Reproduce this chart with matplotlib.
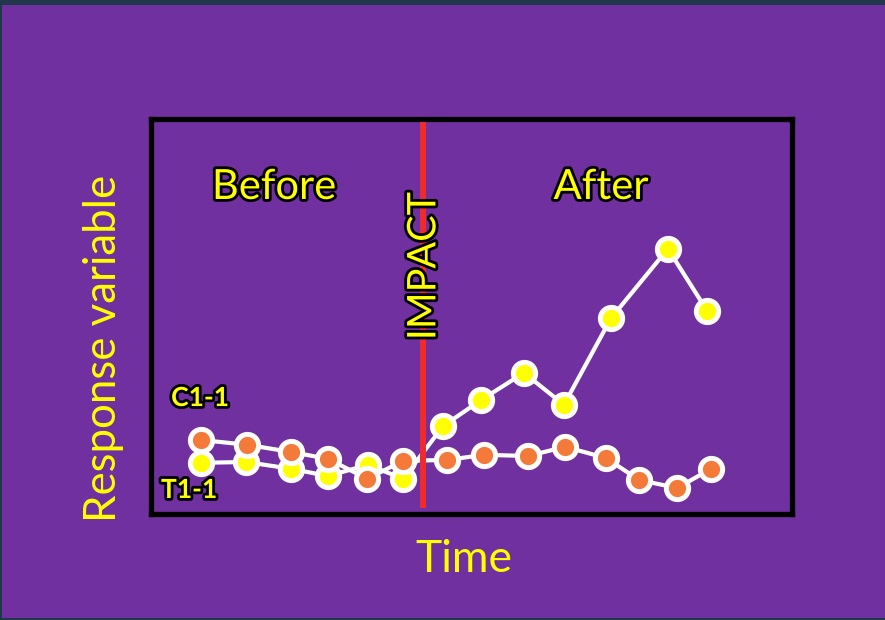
import matplotlib.pyplot as plt
import matplotlib.patheffects as pe
from matplotlib.patches import Rectangle

# values (time / response, arbitrary units)
t_c = [1.33, 2.45, 3.58, 4.5, 5.5, 6.38, 7.38, 8.33, 9.4, 10.4, 11.58, 13.0, 13.98]
y_c = [1.33, 1.35, 1.18, 1.0, 1.28, 0.93, 2.25, 2.9, 3.58, 2.78, 4.95, 6.68, 5.13]

t_t = [1.33, 2.48, 3.58, 4.5, 5.48, 6.38, 7.48, 8.4, 9.5, 10.43, 11.45, 12.28, 13.23, 14.08]
y_t = [1.9, 1.78, 1.6, 1.43, 0.93, 1.38, 1.4, 1.53, 1.5, 1.73, 1.45, 0.9, 0.7, 1.18]

t_impact = 6.88

purple = "#7030A0"
yellow = "#FFFF00"
orange = "#F47A3A"

plt.rcParams['font.family'] = ['Lato', 'DejaVu Sans']

fig = plt.figure(figsize=(8.85, 6.2), dpi=100, facecolor="#21384A")
fig.patches.append(Rectangle((2 / 885, 2 / 620), 1, 1 - 7 / 620,
                             transform=fig.transFigure, facecolor=purple,
                             edgecolor="none", zorder=-1))

ax = fig.add_axes([150.5 / 885, 1 - 513.5 / 620, 641 / 885, 394.5 / 620])
ax.set_facecolor(purple)
ax.set_xlim(0.0625, 16.09)
ax.set_ylim(0.0625, 9.925)
ax.set_xticks([])
ax.set_yticks([])
for s in ax.spines.values():
    s.set_color("black")
    s.set_linewidth(3.8)

ax.plot(t_c, y_c, color="white", lw=3, marker="o", ms=16,
        mfc=yellow, mec="white", mew=3.6, zorder=3)
ax.plot(t_t, y_t, color="white", lw=3, marker="o", ms=16,
        mfc=orange, mec="white", mew=3.6, zorder=4)

ax.vlines(t_impact, 0.2, 9.85, color="#EF2B2D", lw=4.3, zorder=5)

glow = [pe.withStroke(linewidth=4, foreground="black")]

fig.text(0.3096, 0.6984, "Before", color=yellow, fontsize=30,
         ha="center", va="center", path_effects=glow)
fig.text(0.679, 0.6984, "After", color=yellow, fontsize=30,
         ha="center", va="center", path_effects=glow)
fig.text(0.479, 0.571, "IMPACT", color=yellow, fontsize=28.5, rotation=90,
         ha="center", va="center", path_effects=glow, zorder=6)
fig.text(0.226, 0.358, "C1-1", color=yellow, fontsize=19, weight="bold",
         ha="center", va="center", path_effects=glow)
fig.text(0.2136, 0.2097, "T1-1", color=yellow, fontsize=19, weight="bold",
         ha="center", va="center", path_effects=glow)

fig.text(0.1164, 0.4387, "Response variable", color=yellow, fontsize=31.5,
         rotation=90, ha="center", va="center")
fig.text(0.5243, 0.0968, "Time", color=yellow, fontsize=32,
         ha="center", va="center")

fig.savefig("out.png", dpi=100, facecolor=fig.get_facecolor())
